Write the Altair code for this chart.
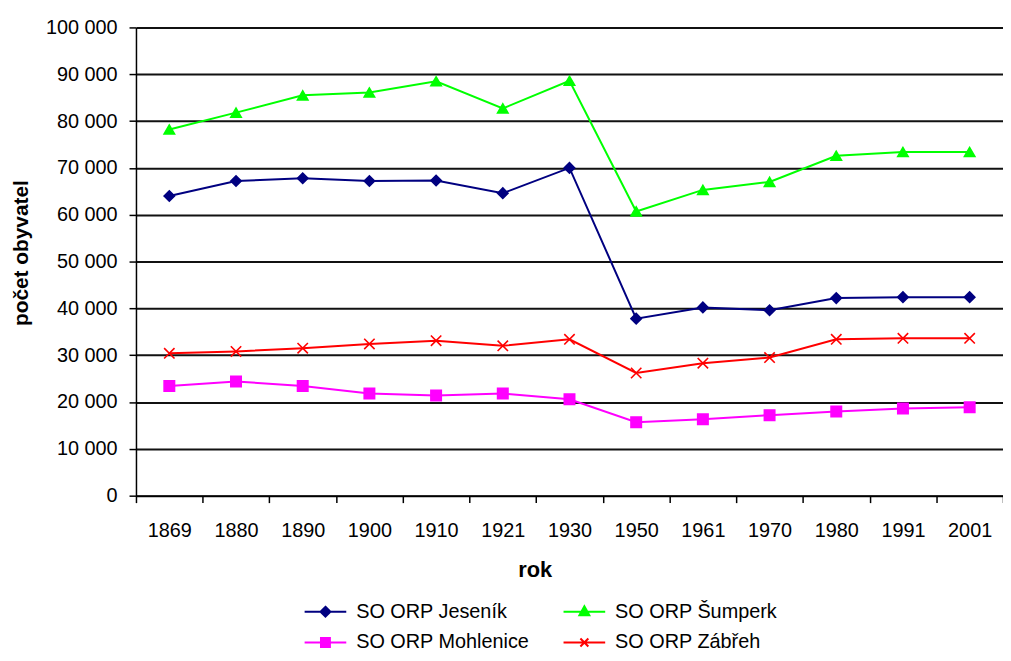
import altair as alt
import pandas as pd

years = ["1869", "1880", "1890", "1900", "1910", "1921", "1930",
         "1950", "1961", "1970", "1980", "1991", "2001"]
series_names = ["SO ORP Jeseník", "SO ORP Šumperk", "SO ORP Mohlenice", "SO ORP Zábřeh"]
jesenik = [64000, 67200, 67800, 67200, 67300, 64600, 70000, 37800, 40200, 39600, 42200, 42400, 42400]
sumperk = [78200, 81800, 85500, 86100, 88500, 82700, 88600, 60700, 65300, 67000, 72600, 73400, 73400]
mohlenice = [23400, 24400, 23400, 21800, 21400, 21800, 20600, 15700, 16300, 17200, 18000, 18600, 18900]
zabreh = [30400, 30800, 31500, 32400, 33100, 32000, 33400, 26200, 28300, 29500, 33400, 33600, 33600]
colors = ["#000080", "#00FF00", "#FF00FF", "#FF0000"]

X_PATH = "M-1,-1L1,1M-1,1L1,-1"
chart_shapes = ["diamond", "triangle-up", "square", X_PATH]
legend_shapes = [
    "M-4.2,0H4.2M0,-1L1,0L0,1L-1,0Z",
    "M-4.2,0H4.2M0,-1.1L1,0.7L-1,0.7Z",
    "M-4.2,0H4.2M-0.9,-0.9H0.9V0.9H-0.9Z",
    "M-4.2,0H4.2M-0.8,-0.8L0.8,0.8M-0.8,0.8L0.8,-0.8",
]

rows = []
for name, vals in zip(series_names, [jesenik, sumperk, mohlenice, zabreh]):
    for y, v in zip(years, vals):
        rows.append({"rok": y, "series": name, "value": v})
df = pd.DataFrame(rows)

FONT = "Liberation Sans"

x_enc = alt.X(
    "rok:N", sort=years,
    scale=alt.Scale(paddingInner=0, paddingOuter=0),
    axis=alt.Axis(
        title="rok", titleFont=FONT, titleFontSize=22, titleFontWeight="bold",
        titleX=402, titleY=74, titleBaseline="middle", titleAlign="center",
        labelFont=FONT, labelFontSize=20, labelColor="#000", labelAngle=0,
        labelPadding=18, tickBand="extent", tickSize=7, tickColor="#000",
        tickWidth=1.5, domainColor="#000", domainWidth=1.5, grid=False,
    ),
)
y_enc = alt.Y(
    "value:Q",
    scale=alt.Scale(domain=[0, 100000], nice=False),
    axis=alt.Axis(
        title="počet obyvatel", titleFont=FONT, titleFontSize=21, titleFontWeight="bold",
        titleX=-115, titleY=227, titleBaseline="middle", titleAlign="center", titleAngle=-90,
        labelFont=FONT, labelFontSize=20, labelColor="#000", labelPadding=12,
        values=list(range(0, 100001, 10000)),
        labelExpr="replace(format(datum.value, ',d'), regexp(',', 'g'), ' ')",
        tickSize=7, tickColor="#000", tickWidth=1.5, domainColor="#000", domainWidth=1.5,
        grid=True, gridColor="#111", gridWidth=2,
    ),
)

color_scale = alt.Scale(domain=series_names, range=colors)

base = alt.Chart(df)

lines = base.mark_line(strokeWidth=2).encode(
    x=x_enc, y=y_enc,
    color=alt.Color("series:N", scale=color_scale, legend=None),
    detail="series:N",
)

points = base.mark_point(filled=True, size=110, strokeWidth=1.6, opacity=1).encode(
    x=x_enc, y=y_enc,
    color=alt.Color("series:N", scale=color_scale, legend=None),
    stroke=alt.Stroke("series:N", scale=color_scale, legend=None),
    shape=alt.Shape("series:N", scale=alt.Scale(domain=series_names, range=chart_shapes), legend=None),
)

legend_def = alt.Legend(
    title=None, orient="none", legendX=181, legendY=579, direction="horizontal",
    columns=2, columnPadding=30, rowPadding=11, padding=0,
    labelFont=FONT, labelFontSize=20, labelColor="#000", labelOffset=21, labelLimit=400,
    symbolSize=100, symbolStrokeWidth=2, symbolOpacity=1,
)

legend_layer = base.mark_point(filled=True, size=100, strokeWidth=2, opacity=0).encode(
    x=x_enc, y=y_enc,
    color=alt.Color("series:N", scale=color_scale, legend=legend_def),
    stroke=alt.Stroke("series:N", scale=color_scale, legend=legend_def),
    shape=alt.Shape("series:N", scale=alt.Scale(domain=series_names, range=legend_shapes), legend=legend_def),
)

chart = alt.layer(lines, points, legend_layer).resolve_scale(
    shape="independent", color="independent", stroke="independent"
).properties(
    width=874, height=472,
    autosize=alt.AutoSizeParams(type="none"),
    padding={"left": 129, "top": 17, "right": 0, "bottom": 156},
    background="white",
).configure_view(stroke=None)

chart.save("out.html", embed_options={"renderer": "svg", "actions": False})
